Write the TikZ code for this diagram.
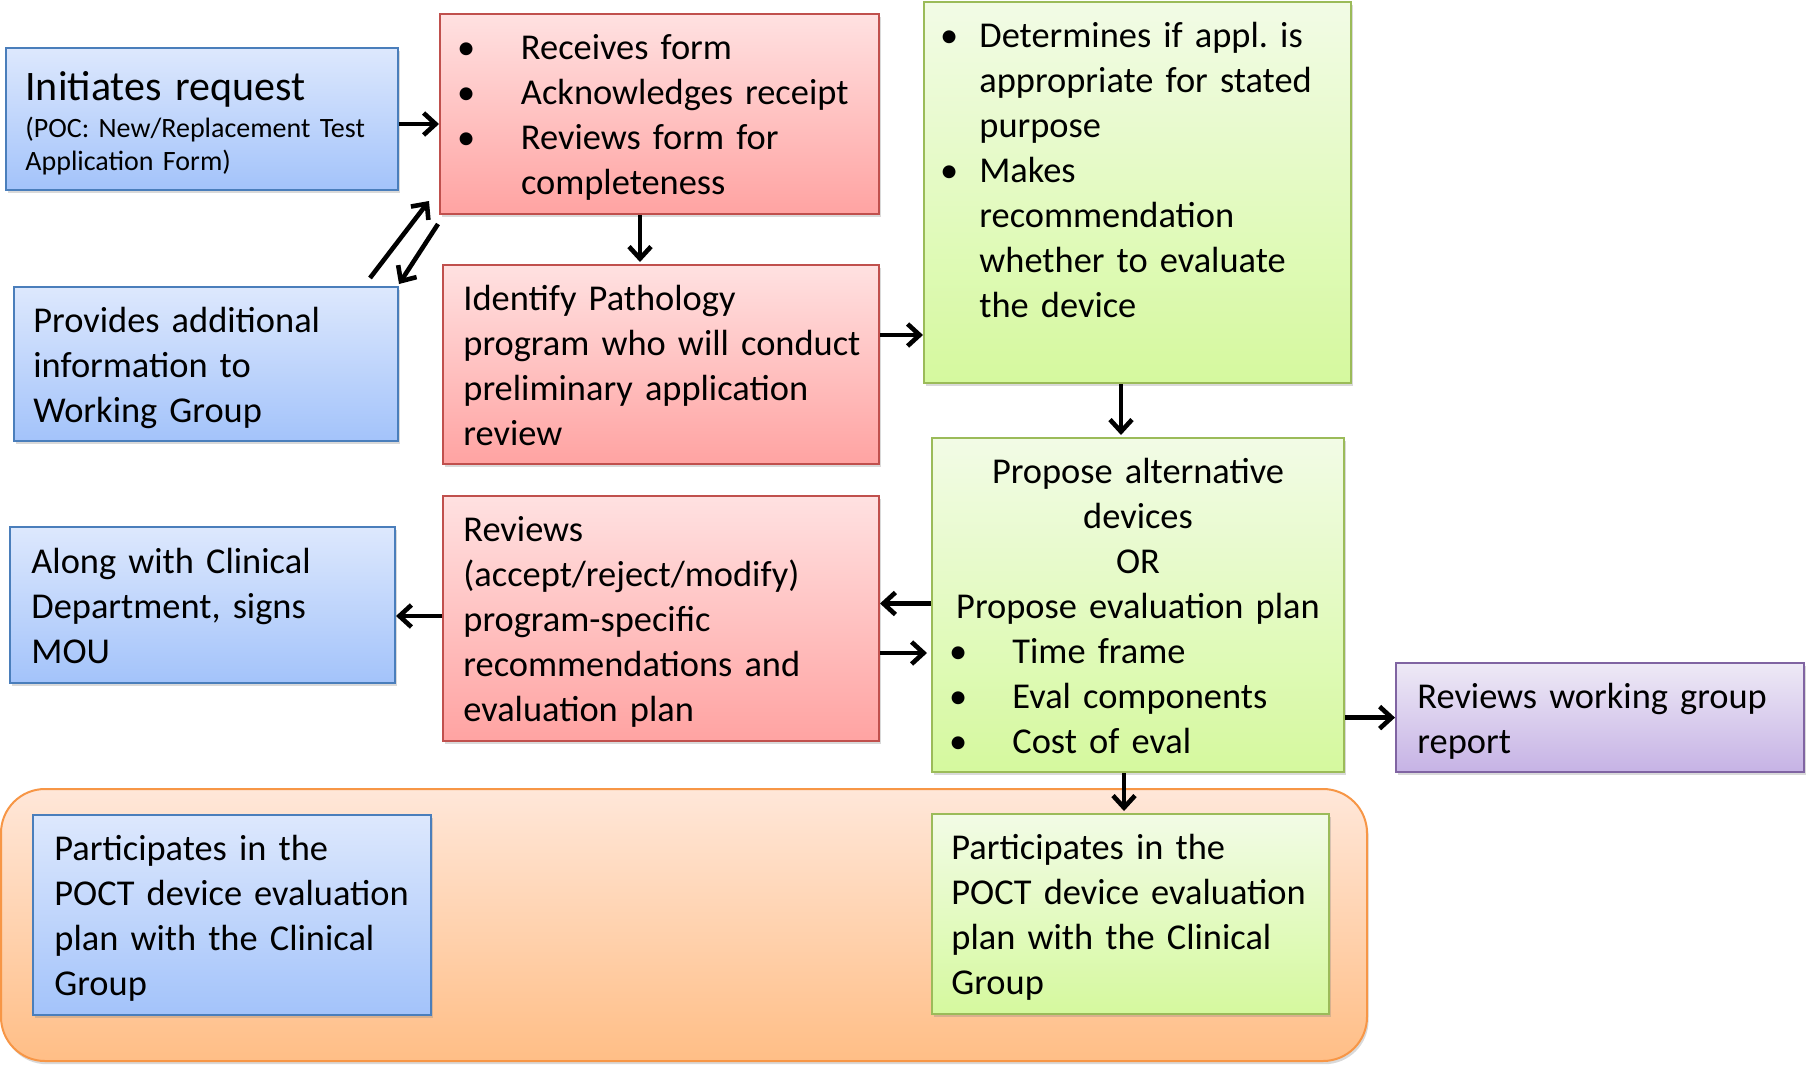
\documentclass[tikz,border=0pt]{standalone}
\usepackage{fontspec}
\setmainfont{Carlito}
\frenchspacing
\usetikzlibrary{arrows.meta,shadows,fit}
\definecolor{bluetop}{HTML}{DDE8FD}
\definecolor{bluebot}{HTML}{A3C3FA}
\definecolor{blueline}{HTML}{4A7EBB}
\definecolor{redtop}{HTML}{FFE1E1}
\definecolor{redbot}{HTML}{FFA3A2}
\definecolor{redline}{HTML}{C0504D}
\definecolor{greentop}{HTML}{F2FBE6}
\definecolor{greenbot}{HTML}{D5F99E}
\definecolor{greenline}{HTML}{9BBB59}
\definecolor{purptop}{HTML}{EEE9F6}
\definecolor{purpbot}{HTML}{C6B3E5}
\definecolor{purpline}{HTML}{8064A2}
\definecolor{orgtop}{HTML}{FFE7D9}
\definecolor{orgbot}{HTML}{FFBE86}
\definecolor{orgline}{HTML}{F79646}
\newcommand\bul[1]{\leavevmode\llap{\makebox[#1][l]{•}}}
\tikzset{
  boxbase/.style={rectangle, inner sep=0pt, line width=1pt,
    drop shadow={opacity=0.3,shadow xshift=0.8pt,shadow yshift=-1.6pt}},
  bluebox/.style={boxbase, draw=blueline, top color=bluetop, bottom color=bluebot},
  redbox/.style={boxbase, draw=redline, top color=redtop, bottom color=redbot},
  greenbox/.style={boxbase, draw=greenline, top color=greentop, bottom color=greenbot},
  purpbox/.style={boxbase, draw=purpline, top color=purptop, bottom color=purpbot},
  orgbox/.style={boxbase, rounded corners=22pt, draw=orgline, top color=orgtop, bottom color=orgbot},
  txt/.style={font=\fontsize{18.2pt}{22.5pt}\selectfont\frenchspacing, inner sep=0pt, align=left,
    text width=260pt, anchor=base west},
  ctxt/.style={font=\fontsize{18.2pt}{22.5pt}\selectfont, inner sep=0pt, align=center,
    text width=200pt, anchor=base},
  arr/.style={line width=2.3pt, -{Straight Barb[length=6pt,width=11pt]}},
}
\begin{document}
\begin{tikzpicture}[x=0.5pt,y=-0.5pt]
\useasboundingbox (0,0) rectangle (1806,1067);
% container
\node[orgbox, fit={(1,789) (1367,1061)}] (cont) {};
% boxes
\node[bluebox, fit={(6,48) (398,190)}] (init) {};
\node[redbox, fit={(440,14) (879,214)}] (red1) {};
\node[bluebox, fit={(14,287) (398,441)}] (prov) {};
\node[redbox, fit={(443,265) (879,464)}] (red2) {};
\node[greenbox, fit={(924,2) (1351,383)}] (green1) {};
\node[greenbox, fit={(932,438) (1344,772)}] (green2) {};
\node[bluebox, fit={(10,527) (395,683)}] (along) {};
\node[redbox, fit={(443,496) (879,741)}] (red3) {};
\node[purpbox, fit={(1396,663) (1804,772)}] (purp) {};
\node[bluebox, fit={(33,815) (431,1015)}] (bpart) {};
\node[greenbox, fit={(932,814) (1329,1014)}] (gpart) {};
% texts
\node[txt, font=\fontsize{21pt}{25pt}\selectfont] (initT) at (25,100) {Initiates request};
\node[txt, font=\fontsize{14pt}{16.5pt}\selectfont] (initS) at (25,137) {(POC: New/Replacement Test\\Application Form)};
\node[txt] (red1T) at (520.6,59.5) {\bul{31.9pt}Receives form\\\bul{31.9pt}Acknowledges receipt\\\bul{31.9pt}Reviews form for\\completeness};
\node[txt] (provT) at (33,332) {Provides additional\\information to\\Working Group};
\node[txt] (red2T) at (463,310) {Identify Pathology\\program who will conduct\\preliminary application\\review};
\node[txt] (green1T) at (979,47.5) {\bul{19.6pt}Determines if appl. is\\appropriate for stated\\purpose\\\bul{19.6pt}Makes\\recommendation\\whether to evaluate\\the device};
\node[ctxt] (green2T) at (1138,483) {Propose alternative\\devices\\OR\\Propose evaluation plan};
\node[txt] (green2B) at (1012,663) {\bul{31.6pt}Time frame\\\bul{31.6pt}Eval components\\\bul{31.6pt}Cost of eval};
\node[txt] (alongT) at (31,573) {Along with Clinical\\Department, signs\\MOU};
\node[txt] (red3T) at (463,541.5) {Reviews\\(accept/reject/modify)\\program-specific\\recommendations and\\evaluation plan};
\node[txt] (purpT) at (1417,708) {Reviews working group\\report};
\node[txt] (bpartT) at (54,860.5) {Participates in the\\POCT device evaluation\\plan with the Clinical\\Group};
\node[txt] (gpartT) at (951,859.5) {Participates in the\\POCT device evaluation\\plan with the Clinical\\Group};
% arrows
\draw[arr] (init.east |- 0,124) -- (red1.west |- 0,124);
\draw[arr] (red1.south -| 640,0) -- ([yshift=1pt]red2.north -| 640,0);
\draw[arr] ([xshift=-14.5pt,yshift=4pt]prov.north east) -- ([xshift=-5pt,yshift=7pt]red1.south west);
\draw[arr] ([xshift=-0.5pt,yshift=-4.5pt]red1.south west) -- ([yshift=1pt]prov.north east);
\draw[arr] (red2.east |- 0,335) -- (green1.west |- 0,335);
\draw[arr] (green1.south -| 1121,0) -- ([yshift=1pt]green2.north -| 1121,0);
\draw[arr] (green2.west |- 0,603.5) -- (red3.east |- 0,603.5);
\draw[arr] (red3.east |- 0,653) -- ([xshift=-2pt]green2.west |- 0,653);
\draw[arr] (red3.west |- 0,616) -- (along.east |- 0,616);
\draw[arr] (green2.east |- 0,717.6) -- (purp.west |- 0,717.6);
\draw[arr] (green2.south -| 1124,0) -- ([yshift=1pt]gpart.north -| 1124,0);
\end{tikzpicture}
\end{document}
